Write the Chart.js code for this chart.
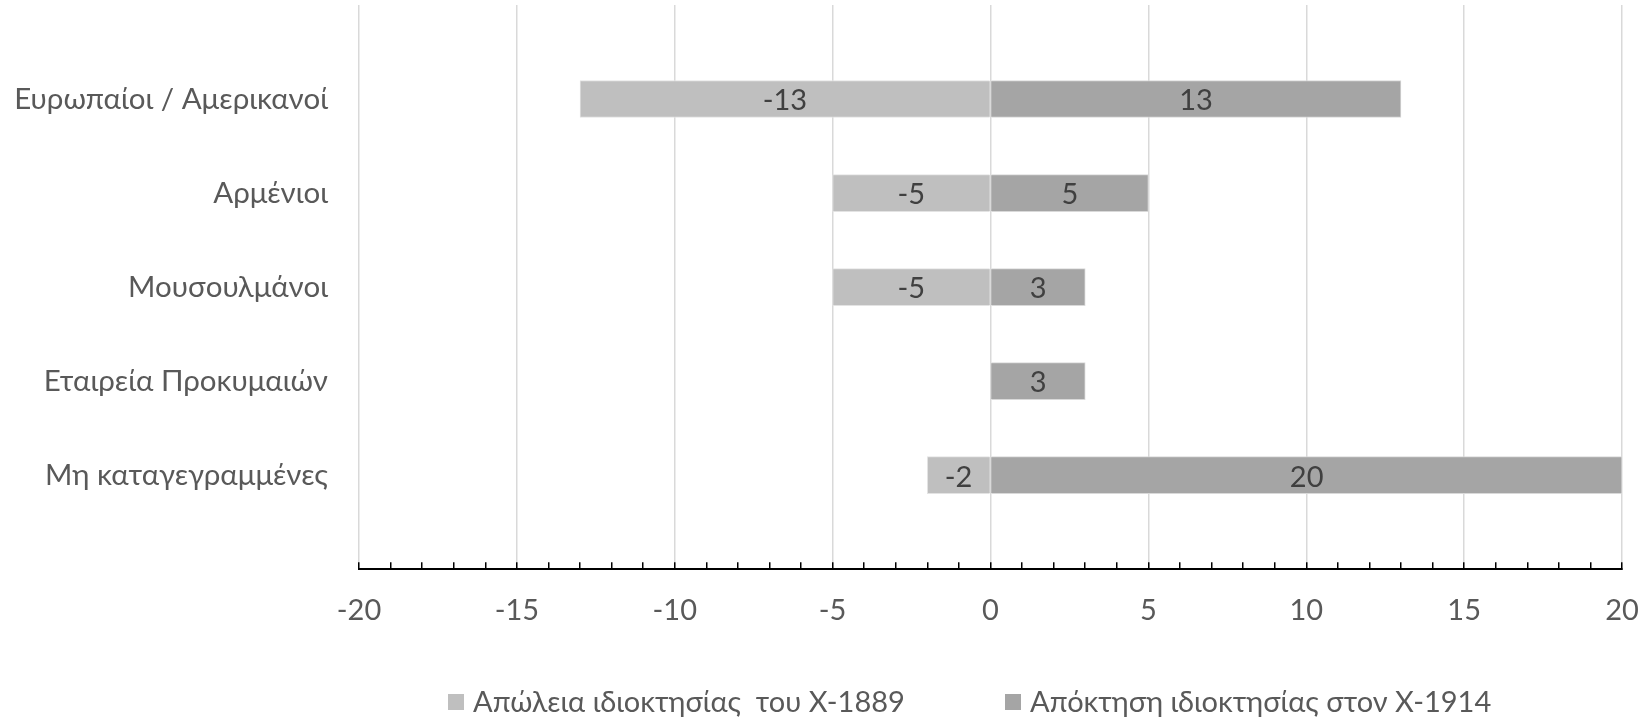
<!DOCTYPE html>
<html>
<head>
<meta charset="utf-8">
<script src="https://cdn.jsdelivr.net/npm/chart.js@4"></script>
<style>
  html, body { margin: 0; padding: 0; background: #fff; }
  #wrap { width: 1642px; height: 723px; }
</style>
</head>
<body>
<div id="wrap"><canvas id="chart"></canvas></div>
<script>
const categories = ['', 'Ευρωπαίοι / Αμερικανοί', 'Αρμένιοι', 'Μουσουλμάνοι', 'Εταιρεία Προκυμαιών', 'Μη καταγεγραμμένες', ''];
const lossLabel = 'Απώλεια ιδιοκτησίας  του Χ-1889';
const gainLabel = 'Απόκτηση ιδιοκτησίας στον Χ-1914';
const lossValues = [null, -13, -5, -5, null, -2, null];
const gainValues = [null, 13, 5, 3, 3, 20, null];

const FONT = 'Lato, "Noto Sans", sans-serif';
const SIZE = 29;

// value labels in the middle of each bar
const barLabels = {
    id: 'barLabels',
    afterDatasetsDraw(chart) {
        const ctx = chart.ctx;
        ctx.save();
        ctx.font = SIZE + 'px ' + FONT;
        ctx.fillStyle = '#404040';
        ctx.textAlign = 'center';
        ctx.textBaseline = 'middle';
        chart.data.datasets.forEach((ds, i) => {
            chart.getDatasetMeta(i).data.forEach((bar, j) => {
                const v = ds.data[j];
                if (v === null || v === undefined) return;
                const p = bar.getProps(['x', 'base', 'y'], true);
                ctx.fillText(String(v), (p.x + p.base) / 2, p.y + 2);
            });
        });
        ctx.restore();
    }
};

// legend row under the axis, items spaced like the original
const bottomLegend = {
    id: 'bottomLegend',
    afterDraw(chart) {
        const ctx = chart.ctx;
        const xs = [448, 1005];
        ctx.save();
        ctx.font = SIZE + 'px ' + FONT;
        ctx.textAlign = 'left';
        ctx.textBaseline = 'middle';
        chart.data.datasets.forEach((ds, i) => {
            ctx.fillStyle = ds.backgroundColor;
            ctx.fillRect(xs[i], 694, 16, 16);
            ctx.fillStyle = '#595959';
            ctx.fillText(ds.label, xs[i] + 25, 703);
        });
        ctx.restore();
    }
};

Chart.defaults.font.family = FONT;
Chart.defaults.font.size = SIZE;
Chart.defaults.color = '#595959';

const ctx = document.getElementById('chart').getContext('2d');
const chart = new Chart(ctx, {
    type: 'bar',
    data: {
        labels: categories,
        datasets: [
            {
                label: lossLabel,
                data: lossValues,
                backgroundColor: '#bfbfbf',
                borderColor: '#e3e3e3',
                borderWidth: 1,
                barThickness: 37
            },
            {
                label: gainLabel,
                data: gainValues,
                backgroundColor: '#a5a5a5',
                borderColor: '#d9d9d9',
                borderWidth: 1,
                barThickness: 37
            }
        ]
    },
    options: {
        indexAxis: 'y',
        responsive: true,
        maintainAspectRatio: false,
        animation: false,
        layout: { padding: { left: 0, right: 20, top: 5, bottom: 64 } },
        plugins: {
            tooltip: { enabled: false },
            legend: { display: false }
        },
        scales: {
            x: {
                stacked: true,
                min: -20,
                max: 20,
                ticks: {
                    stepSize: 1,
                    autoSkip: false,
                    maxRotation: 0,
                    padding: 31,
                    color: '#595959',
                    callback: v => (v % 5 === 0 ? String(v) : '')
                },
                grid: {
                    color: c => (c.tick && c.tick.value % 5 === 0 ? '#d9d9d9' : 'rgba(0,0,0,0)'),
                    lineWidth: 1.5,
                    tickColor: '#000',
                    tickLength: -7,
                    tickWidth: 1.5
                },
                border: { color: '#000', width: 2 },
                afterFit: s => {
                    s.paddingLeft = 0;
                    s.paddingRight = 0;
                }
            },
            y: {
                stacked: true,
                offset: false,
                grid: { display: false, drawTicks: false },
                border: { display: false },
                ticks: { padding: 31, color: '#595959', autoSkip: false, font: { size: 29.5 } },
                afterFit: s => {
                    s.width = 359;
                    s.paddingTop = 0;
                    s.paddingBottom = 0;
                }
            }
        }
    },
    plugins: [barLabels, bottomLegend]
});
</script>
</body>
</html>
